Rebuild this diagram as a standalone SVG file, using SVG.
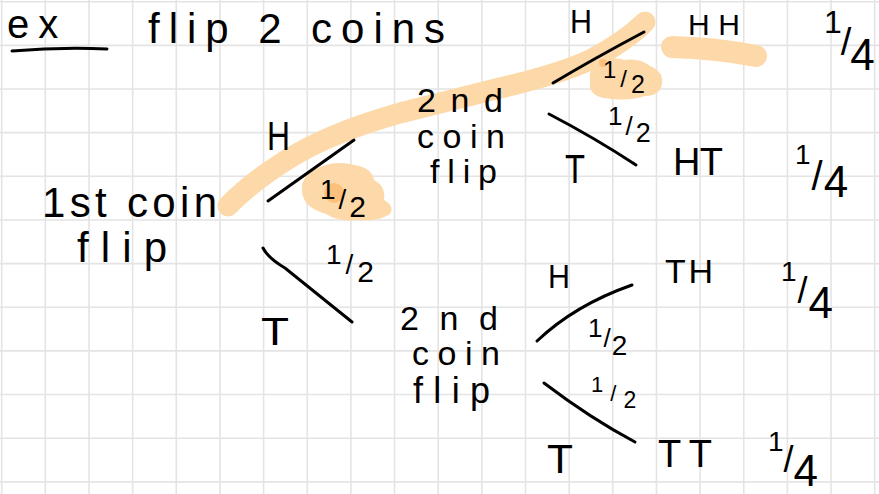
<svg xmlns="http://www.w3.org/2000/svg" width="879" height="494" viewBox="0 0 879 494">
<style>
.grid{stroke:#e4e4e4;stroke-width:1.6;fill:none}
.hl{stroke:#fdd9a9;stroke-linecap:round;stroke-linejoin:round;fill:none}
.blob{fill:#fdd9a9}
.dark{fill:#fbc07c}
.ink{stroke:#000;stroke-width:3;stroke-linecap:round;fill:none}
text{font-family:"Liberation Sans",Arial,sans-serif;fill:#000}
</style>
<rect width="879" height="494" fill="#fff"/>
<path class="grid" d="M1.7,0V494M45.35,0V494M89,0V494M132.65,0V494M176.3,0V494M219.95,0V494M263.6,0V494M307.25,0V494M350.9,0V494M394.55,0V494M438.2,0V494M481.85,0V494M525.5,0V494M569.15,0V494M612.8,0V494M656.45,0V494M700.1,0V494M743.75,0V494M787.4,0V494M831.05,0V494M874.7,0V494M0,1.7H879M0,45.35H879M0,89H879M0,132.65H879M0,176.3H879M0,219.95H879M0,263.6H879M0,307.25H879M0,350.9H879M0,394.55H879M0,438.2H879M0,481.85H879"/>
<g id="highlights">
<path class="hl" stroke-width="21" d="M228,206 Q255,178 300,152 Q340,130 400,113 L500,88 Q560,74 590,60 Q625,42 645,22"/>
<path class="hl" stroke-width="22" d="M672,47 Q715,48 756,56"/>
<path class="blob" d="M590,80 Q588,66 603,62 Q612,56 625,60 Q640,58 650,66 Q664,72 662,84 Q660,96 645,96 Q630,101 612,99 Q593,98 590,88 Z"/>
<circle class="dark" cx="603" cy="63" r="4"/>
<path class="blob" d="M302,192 Q300,176 318,168 Q335,160 355,165 Q372,168 374,180 Q386,186 384,200 Q395,206 390,214 Q378,222 358,220 Q338,222 326,214 Q304,208 302,192 Z"/>
<circle class="dark" cx="334" cy="193" r="10"/>
</g>
<g id="title">
<text x="7" y="38" font-size="40" letter-spacing="9">ex</text>
<path class="ink" d="M12,51 Q60,47 107,49"/>
<text x="148" y="43" font-size="42" textLength="297" lengthAdjust="spacing">flip 2 coins</text>
</g>
<g id="connectors">
<path class="ink" d="M268,201 L354,140"/>
<path class="ink" d="M263,248 Q268,258 285,268 L352,322"/>
<path class="ink" d="M553,83 Q595,58 644,32"/>
<path class="ink" d="M549,114 Q595,138 636,165"/>
<path class="ink" d="M537,341 Q575,305 632,285"/>
<path class="ink" d="M544,383 Q590,418 635,442"/>
</g>
<g id="first-flip">
<text x="42" y="217" font-size="42" textLength="175" lengthAdjust="spacing">1st coin</text>
<text x="77" y="262" font-size="42" textLength="90" lengthAdjust="spacing">flip</text>
</g>
<g id="h1">
<text x="267" y="150" font-size="40" textLength="23" lengthAdjust="spacingAndGlyphs">H</text>
<text x="320" y="199" font-size="28" letter-spacing="3">1<tspan dy="10">/</tspan><tspan dy="8" font-size="30">2</tspan></text>
</g>
<g id="t1">
<text x="261" y="345" font-size="38" textLength="28" lengthAdjust="spacingAndGlyphs">T</text>
<text x="326" y="264" font-size="28" letter-spacing="4">1<tspan dy="10">/</tspan><tspan dy="8" font-size="30">2</tspan></text>
</g>
<g id="second-flip-upper">
<text x="417" y="112" font-size="34" textLength="86" lengthAdjust="spacing">2nd</text>
<text x="417" y="148" font-size="34" textLength="88" lengthAdjust="spacing">coin</text>
<text x="430" y="183" font-size="34" textLength="67" lengthAdjust="spacing">flip</text>
</g>
<g id="h2-upper">
<text x="570" y="33" font-size="33" textLength="22" lengthAdjust="spacingAndGlyphs">H</text>
<text x="603" y="78" font-size="24" letter-spacing="4">1<tspan dy="9">/</tspan><tspan dy="6" font-size="25">2</tspan></text>
</g>
<g id="t2-upper">
<text x="565" y="183" font-size="40" textLength="20" lengthAdjust="spacingAndGlyphs">T</text>
<text x="608" y="125" font-size="26" letter-spacing="3">1<tspan dy="10">/</tspan><tspan dy="7" font-size="27">2</tspan></text>
</g>
<g id="hh">
<text x="688" y="35" font-size="30" textLength="52" lengthAdjust="spacing">HH</text>
<text x="824" y="33" font-size="32" letter-spacing="-1">1<tspan dy="22" font-size="38">/</tspan><tspan dy="15" font-size="44">4</tspan></text>
</g>
<g id="ht">
<text x="673" y="175" font-size="38" textLength="50" lengthAdjust="spacing">HT</text>
<text x="795" y="164" font-size="28" letter-spacing="1">1<tspan dy="26" font-size="40">/</tspan><tspan dy="7" font-size="44">4</tspan></text>
</g>
<g id="second-flip-lower">
<text x="400" y="330" font-size="34" textLength="98" lengthAdjust="spacing">2nd</text>
<text x="412" y="365" font-size="34" textLength="88" lengthAdjust="spacing">coin</text>
<text x="413" y="403" font-size="36" textLength="77" lengthAdjust="spacing">flip</text>
</g>
<g id="h2-lower">
<text x="548" y="288" font-size="34" textLength="22" lengthAdjust="spacingAndGlyphs">H</text>
<text x="588" y="337" font-size="26" letter-spacing="1">1<tspan dy="10">/</tspan><tspan dy="8" font-size="28">2</tspan></text>
</g>
<g id="t2-lower">
<text x="547" y="473" font-size="40" textLength="26" lengthAdjust="spacingAndGlyphs">T</text>
<text x="591" y="392" font-size="22" letter-spacing="7">1<tspan dy="9">/</tspan><tspan dy="7" font-size="23">2</tspan></text>
</g>
<g id="th">
<text x="665" y="283" font-size="34" textLength="48" lengthAdjust="spacing">TH</text>
<text x="781" y="281" font-size="28" letter-spacing="1">1<tspan dy="22" font-size="36">/</tspan><tspan dy="15" font-size="44">4</tspan></text>
</g>
<g id="tt">
<text x="658" y="467" font-size="38" textLength="54" lengthAdjust="spacing">TT</text>
<text x="768" y="451" font-size="28">1<tspan dy="21" font-size="36">/</tspan><tspan dy="14" font-size="44">4</tspan></text>
</g>
</svg>
